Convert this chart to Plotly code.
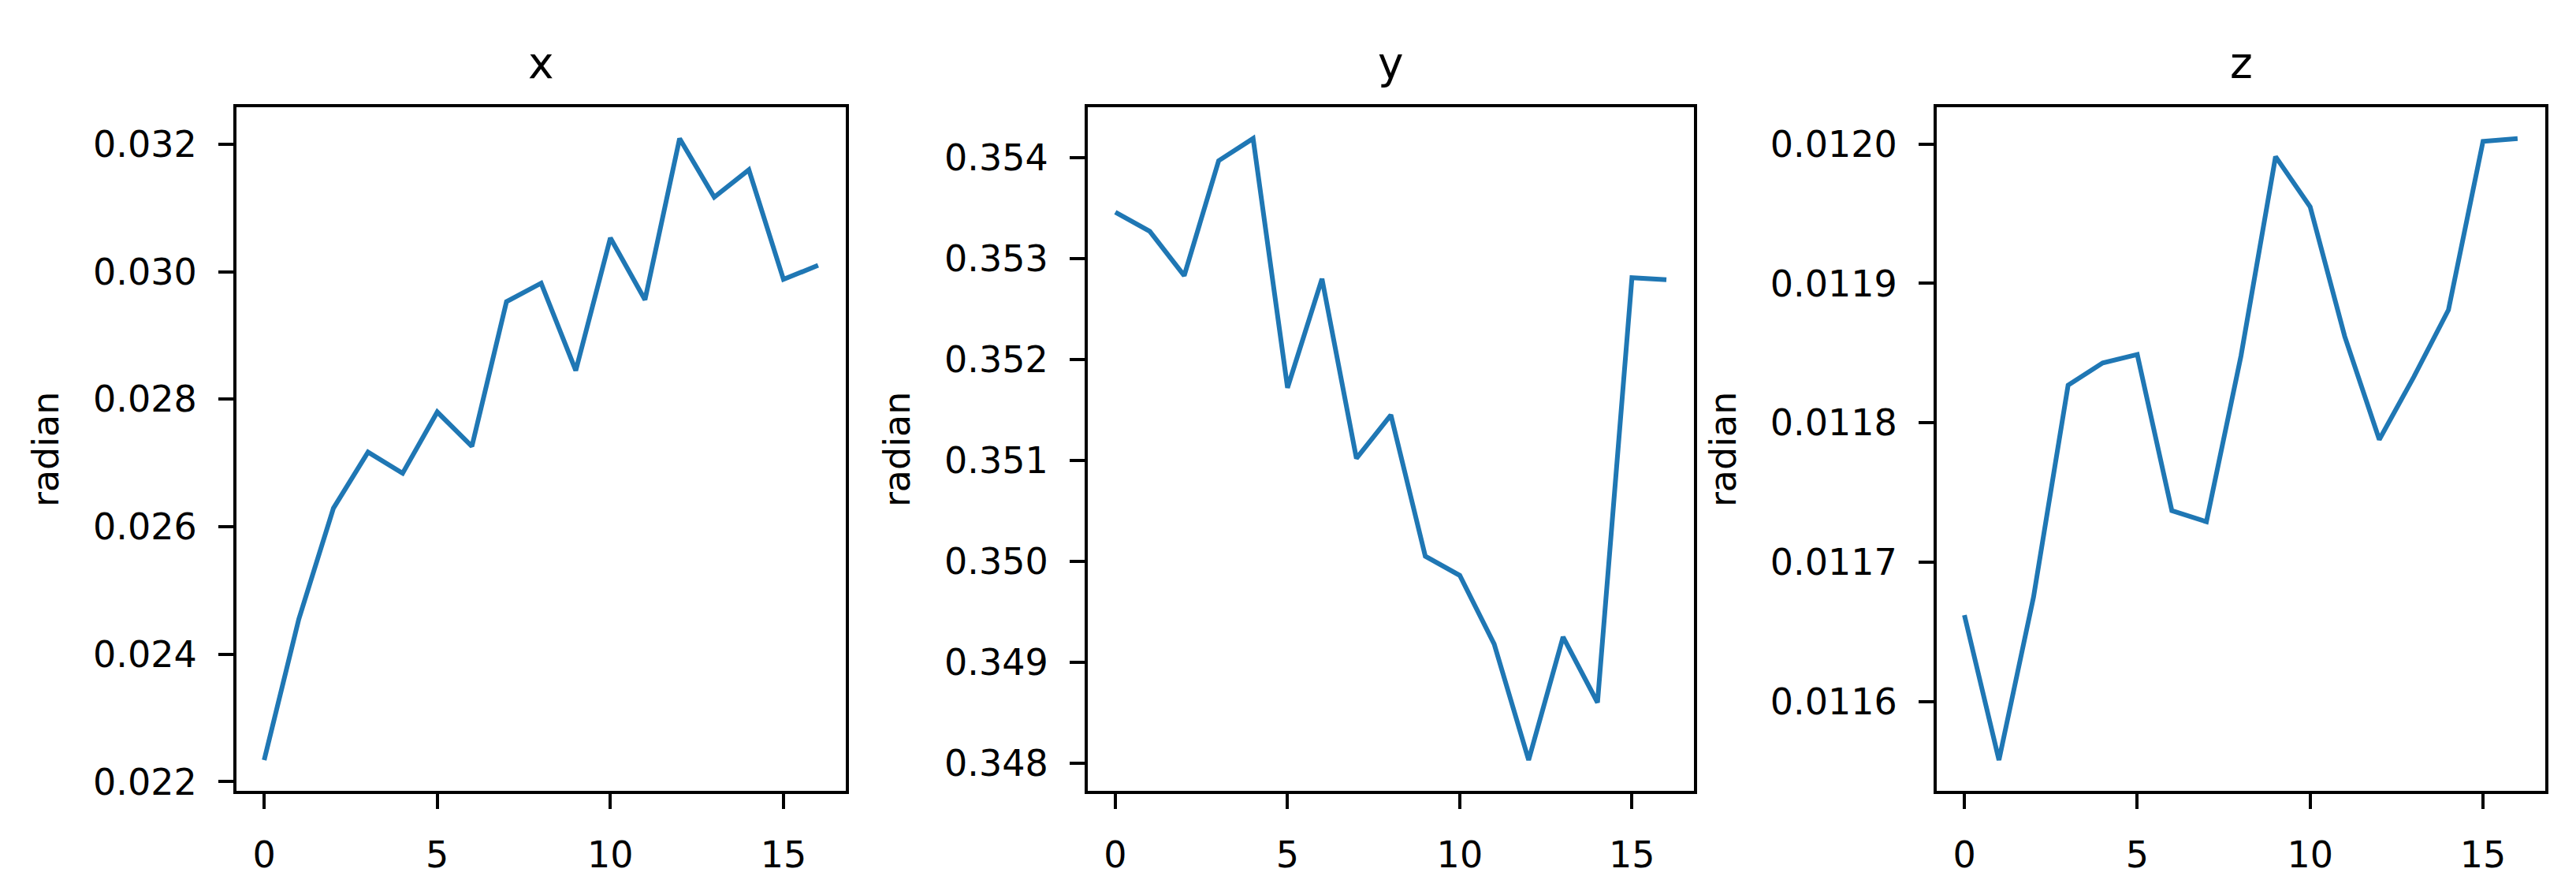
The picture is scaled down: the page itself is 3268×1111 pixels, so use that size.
import plotly.graph_objects as go
from plotly.subplots import make_subplots

LINE_BLUE = "#1f77b4"
FONT = "DejaVu Sans, Arial, sans-serif"

steps = list(range(17))
panel_titles = ["x", "y", "z"]

x_rad = [0.02234, 0.02455, 0.02629, 0.02717, 0.02684, 0.02780, 0.02726, 0.02953, 0.02982,
         0.02845, 0.03053, 0.02956, 0.03209, 0.03117, 0.03160, 0.02988, 0.03010]
y_rad = [0.35346, 0.35327, 0.35283, 0.35397, 0.35419, 0.35172, 0.35280, 0.35102, 0.35145,
         0.35005, 0.34986, 0.34918, 0.34803, 0.34925, 0.34860, 0.35281, 0.35279]
z_rad = [0.011662, 0.011558, 0.011675, 0.011827, 0.011843, 0.011849, 0.011737, 0.011729, 0.011848,
         0.011991, 0.011955, 0.011862, 0.011788, 0.011833, 0.011881, 0.012002, 0.012004]

y_dticks = [0.002, 0.001, 0.0001]
y_formats = [".3f", ".3f", ".4f"]

W, H = 3268, 1111
x_domains = [(292, 1065), (1372, 2141), (2449, 3221)]
y_top, y_bottom = 130, 1009


def padded(vals, frac=0.05):
    lo, hi = min(vals), max(vals)
    pad = (hi - lo) * frac
    return [lo - pad, hi + pad]


fig = make_subplots(rows=1, cols=3)

for i, series in enumerate([x_rad, y_rad, z_rad]):
    col = i + 1
    fig.add_trace(
        go.Scatter(x=steps, y=series, mode="lines",
                   line=dict(color=LINE_BLUE, width=6), showlegend=False),
        row=1, col=col,
    )
    axis_common = dict(
        showline=True, mirror=True, linecolor="black", linewidth=4,
        ticks="outside", ticklen=19, tickwidth=3.5, tickcolor="black",
        showgrid=False, zeroline=False, ticklabelstandoff=18,
        tickfont=dict(family=FONT, size=46, color="black"),
    )
    fig.update_xaxes(
        range=padded(steps), tickmode="linear", tick0=0, dtick=5,
        domain=[x_domains[i][0] / W, x_domains[i][1] / W],
        row=1, col=col, **axis_common,
    )
    fig.update_yaxes(
        range=padded(series), tickmode="linear", tick0=0, dtick=y_dticks[i],
        tickformat=y_formats[i],
        domain=[(H - y_bottom) / H, (H - y_top) / H],
        title=dict(text="radian", standoff=30, font=dict(family=FONT, size=46, color="black")),
        row=1, col=col, **axis_common,
    )
    fig.add_annotation(
        text=panel_titles[i], showarrow=False,
        x=(x_domains[i][0] + x_domains[i][1]) / 2 / W, y=(H - y_top) / H,
        xref="paper", yref="paper", xanchor="center", yanchor="bottom", yshift=22,
        font=dict(family=FONT, size=55, color="black"),
    )

fig.update_layout(
    width=W, height=H,
    margin=dict(l=0, r=0, t=0, b=0),
    paper_bgcolor="white", plot_bgcolor="white",
    font=dict(family=FONT, color="black"),
)

fig.write_html("out.html")
